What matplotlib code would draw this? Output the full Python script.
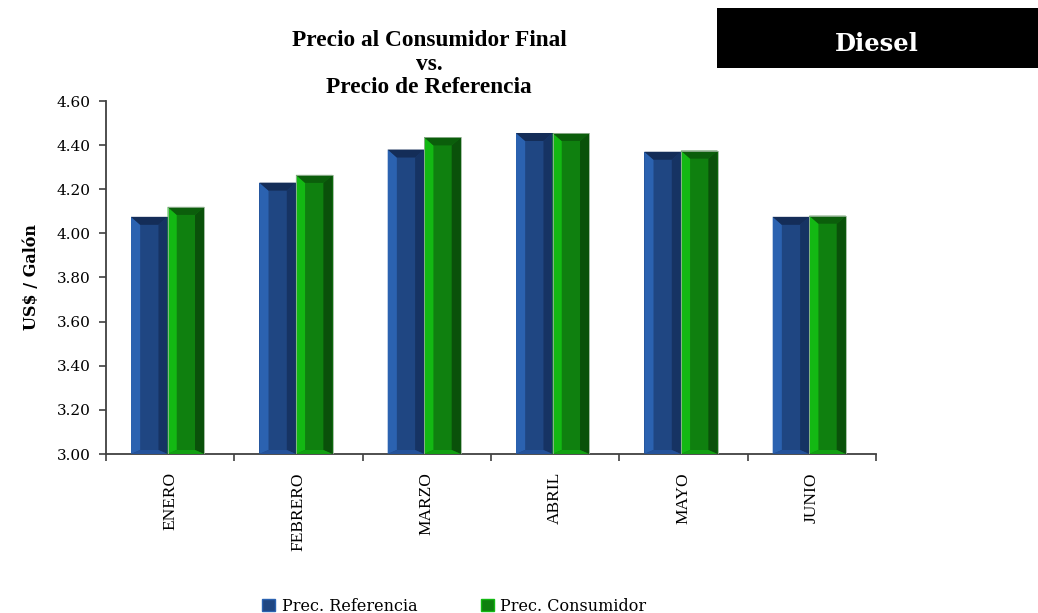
import matplotlib
matplotlib.use("Agg")
import matplotlib.pyplot as plt
from matplotlib.patches import Polygon, Rectangle
import numpy as np

# ---- data ----
months = ["ENERO", "FEBRERO", "MARZO", "ABRIL", "MAYO", "JUNIO"]
prec_referencia = [4.075, 4.23, 4.38, 4.455, 4.37, 4.075]
prec_consumidor = [4.12, 4.265, 4.435, 4.455, 4.375, 4.08]
series_names = ["Prec. Referencia", "Prec. Consumidor"]
yticks = [3.00, 3.20, 3.40, 3.60, 3.80, 4.00, 4.20, 4.40, 4.60]

title_text = "Precio al Consumidor Final\nvs.\nPrecio de Referencia"
ylabel_text = "US$ / Galón"
badge_text = "Diesel"

# ---- style ----
blue = dict(face="#1f4682", left="#2b62b0", right="#163363", top="#142d58", bottom="#24529a")
green = dict(face="#0f800f", left="#13b813", right="#0a510a", top="#0b5e0b", bottom="#12a012")

W, H = 1038, 613
fig = plt.figure(figsize=(W / 100, H / 100), dpi=100)
ax = fig.add_axes([106 / W, 1 - 454 / H, (876 - 106) / W, (454 - 101) / H])

x = np.arange(len(months))
bw = 0.285
ymin, ymax = 3.0, 4.6

bars1 = ax.bar(x - bw / 2 - 0.02, np.array(prec_referencia) - ymin, bw, bottom=ymin,
               color=blue["face"], edgecolor="none", zorder=2)
bars2 = ax.bar(x + bw / 2 - 0.02, np.array(prec_consumidor) - ymin, bw, bottom=ymin,
               color=green["face"], edgecolor="none", zorder=2)

bev_y_top = (ymax - ymin) * 8 / 353
bev_y_bot = (ymax - ymin) * 4 / 353


def bevel(bars, c, edge):
    for r in bars:
        x0, y0, w, h = r.get_x(), r.get_y(), r.get_width(), r.get_height()
        x1, y1 = x0 + w, y0 + h
        ix = w * 0.25
        ax.add_patch(Polygon([(x0, y0), (x0 + ix, y0 + bev_y_bot), (x0 + ix, y1 - bev_y_top), (x0, y1)],
                             closed=True, facecolor=c["left"], edgecolor="none", zorder=3))
        ax.add_patch(Polygon([(x1, y0), (x1 - ix, y0 + bev_y_bot), (x1 - ix, y1 - bev_y_top), (x1, y1)],
                             closed=True, facecolor=c["right"], edgecolor="none", zorder=3))
        ax.add_patch(Polygon([(x0, y1), (x0 + ix, y1 - bev_y_top), (x1 - ix, y1 - bev_y_top), (x1, y1)],
                             closed=True, facecolor=c["top"], edgecolor="none", zorder=3))
        ax.add_patch(Polygon([(x0, y0), (x0 + ix, y0 + bev_y_bot), (x1 - ix, y0 + bev_y_bot), (x1, y0)],
                             closed=True, facecolor=c["bottom"], edgecolor="none", zorder=3))
        if edge:
            ax.add_patch(Rectangle((x0, y0), w, h, facecolor="none", edgecolor=edge,
                                   linewidth=0.6, zorder=4))


bevel(bars1, blue, None)
bevel(bars2, green, "#9ab59a")

ax.set_xlim(-0.5, len(months) - 0.5)
ax.set_ylim(ymin, ymax)
ax.set_yticks(yticks)
ax.set_yticklabels([f"{v:.2f}" for v in yticks], fontfamily="DejaVu Serif", fontsize=11)
ax.set_xticks(x)
ax.set_xticklabels(months, rotation=90, fontfamily="Liberation Serif", fontsize=12.5, va="top")
ax.set_xticks(np.arange(len(months) + 1) - 0.5, minor=True)
ax.tick_params(axis="x", which="major", length=0, pad=13)
ax.tick_params(axis="x", which="minor", length=5, width=1.2, color="#404040", direction="out")
ax.tick_params(axis="y", length=5, width=1.2, color="#404040", pad=6)

for s in ["top", "right"]:
    ax.spines[s].set_visible(False)
for s in ["left", "bottom"]:
    ax.spines[s].set_color("#404040")
    ax.spines[s].set_linewidth(1.3)

ax.set_ylabel(ylabel_text, fontfamily="DejaVu Serif", fontweight="bold", fontsize=11.5)
ax.yaxis.set_label_coords(-0.086, 0.5)

fig.text(429 / W, 1 - 64 / H, title_text, ha="center", va="center", fontfamily="Liberation Serif",
         fontweight="bold", fontsize=16.8, linespacing=1.15)

# Diesel badge
fig.patches.append(Rectangle((717 / W, 1 - 68 / H), (W - 717) / W, 60 / H, transform=fig.transFigure,
                             facecolor="black", edgecolor="none"))
fig.text(877 / W, 1 - 44 / H, badge_text, ha="center", va="center", color="white",
         fontfamily="DejaVu Serif", fontweight="bold", fontsize=17.5)

# legend
handles = [Rectangle((0, 0), 1, 1, facecolor=blue["face"], edgecolor=blue["left"]),
           Rectangle((0, 0), 1, 1, facecolor=green["face"], edgecolor=green["left"])]
fig.legend(handles, series_names, loc="lower left", bbox_to_anchor=(248 / W, -0.026), ncol=2,
           frameon=False, prop={"family": "DejaVu Serif", "size": 11.5}, handlelength=0.8,
           handleheight=0.8, handletextpad=0.4, columnspacing=4.0)

fig.savefig("out.png", dpi=100)
